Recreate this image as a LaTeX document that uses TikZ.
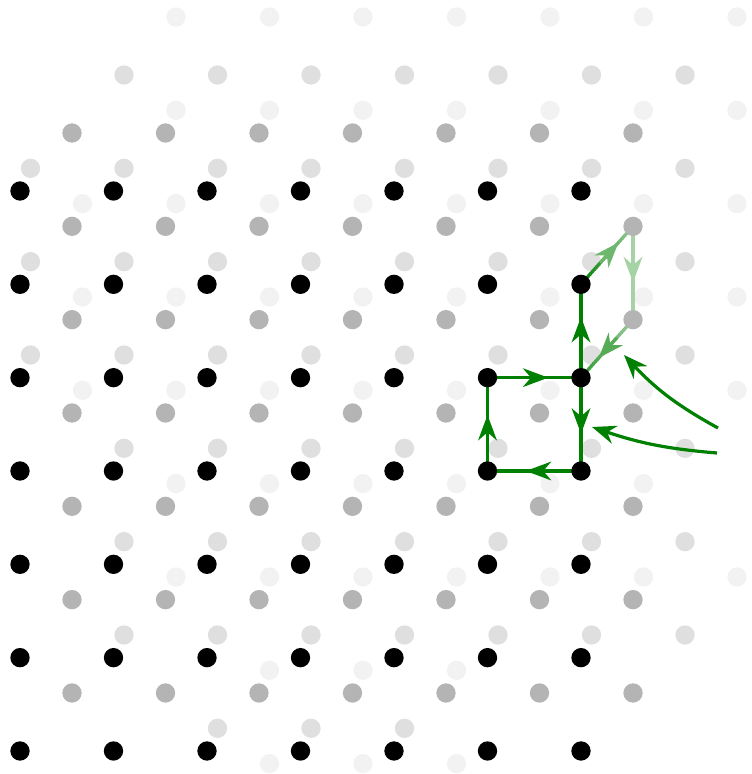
\documentclass[tikz,border=0pt]{standalone}
\usetikzlibrary{arrows.meta,decorations.markings,calc}
\definecolor{lgreen}{RGB}{0,128,0}
\definecolor{dotA}{RGB}{180,180,180}
\definecolor{dotB}{RGB}{223,223,223}
\definecolor{dotC}{RGB}{242,242,242}
\tikzset{
  dot/.style={circle, inner sep=0pt, minimum size=14.5pt, draw=none},
  conn/.style={color=lgreen, line width=2.4pt},
  tipstyle/.style={-{Stealth[length=18pt,width=14pt,inset=6pt]}},
  marrow/.style={postaction={decorate}, decoration={markings,
      mark=at position #1 with {\arrow{Stealth[length=19pt,width=14pt,inset=6pt]}}}},
}
% gradient connector: from, to, start %, end %, arrow position
\newcommand\gradconn[5]{%
  \foreach \t in {0,...,23}{%
    \pgfmathsetmacro\cc{#3+(#4-#3)*\t/23}%
    \draw[line width=2.4pt, draw=lgreen!\cc] ($(#1)!{\t/24}!(#2)$) -- ($(#1)!{min(1,(\t+1.4)/24)}!(#2)$);
  }%
  \pgfmathsetmacro\cc{#3+(#4-#3)*(#5)}%
  \draw[line width=2.4pt, color=lgreen!\cc, -{Stealth[length=19pt,width=14pt,inset=6pt]}] ($(#1)!{#5-0.35}!(#2)$) -- ($(#1)!{#5}!(#2)$);
}
\begin{document}
\begin{tikzpicture}[x=0.75pt,y=-0.75pt]
\useasboundingbox (0,0) rectangle (752,774);
% layer 3 (farthest)
\foreach \j/\a/\b in {0/0/6,1/0/6,2/-1/6,3/-1/6,4/-1/6,5/0/5,6/0/6,7/1/3,8/1/3}{
  \foreach \i in {\a,...,\b}{
    \node[dot, fill=dotC] (L3-\i-\j) at ({20+93.5*(\i)+156},{191+93.33*(\j)-174}) {};
  }
}
% layer 2
\foreach \j/\a/\b in {0/0/6,1/-1/6,2/-1/6,3/-1/6,4/0/6,5/0/6,6/0/6,7/1/3}{
  \foreach \i in {\a,...,\b}{
    \node[dot, fill=dotB] (L2-\i-\j) at ({20+93.5*(\i)+104},{191+93.33*(\j)-116}) {};
  }
}
% coordinates of layers 1 and 0
\foreach \i in {0,...,6}{
  \foreach \j in {0,...,6}{
    \coordinate (G-\i-\j) at ({20+93.5*(\i)+52},{191+93.33*(\j)-58});
    \coordinate (B-\i-\j) at ({20+93.5*(\i)},{191+93.33*(\j)});
  }
}
% connectors
\draw[conn, color=lgreen!35, marrow=0.6] (G-6-1) -- (G-6-2);
\gradconn{B-6-1}{G-6-1}{100}{40}{0.72}
\gradconn{G-6-2}{B-6-2}{40}{80}{0.66}
\draw[conn, marrow=0.65] (B-5-2) -- (B-6-2);
\draw[conn, marrow=0.6] (B-6-2) -- (B-6-3);
\draw[conn, marrow=0.59] (B-6-3) -- (B-5-3);
\draw[conn, marrow=0.6] (B-5-3) -- (B-5-2);
\draw[conn, marrow=0.65] (B-6-2) -- (B-6-1);
% layer 1 and layer 0 dots
\foreach \i in {0,...,6}{
  \foreach \j in {0,...,6}{
    \node[dot, fill=dotA] (L1-\i-\j) at (G-\i-\j) {};
  }
}
\foreach \i in {0,...,6}{
  \foreach \j in {0,...,6}{
    \node[dot, fill=black] (L0-\i-\j) at (B-\i-\j) {};
  }
}
% pointer arrows
\coordinate (s1) at (718,428);
\coordinate (t1) at (624,355);
\coordinate (s2) at (717,453);
\coordinate (t2) at (592,427);
\draw[conn, tipstyle] (s1) to[bend left=9] (t1);
\draw[conn, tipstyle] (s2) to[bend left=7] (t2);
\end{tikzpicture}
\end{document}
